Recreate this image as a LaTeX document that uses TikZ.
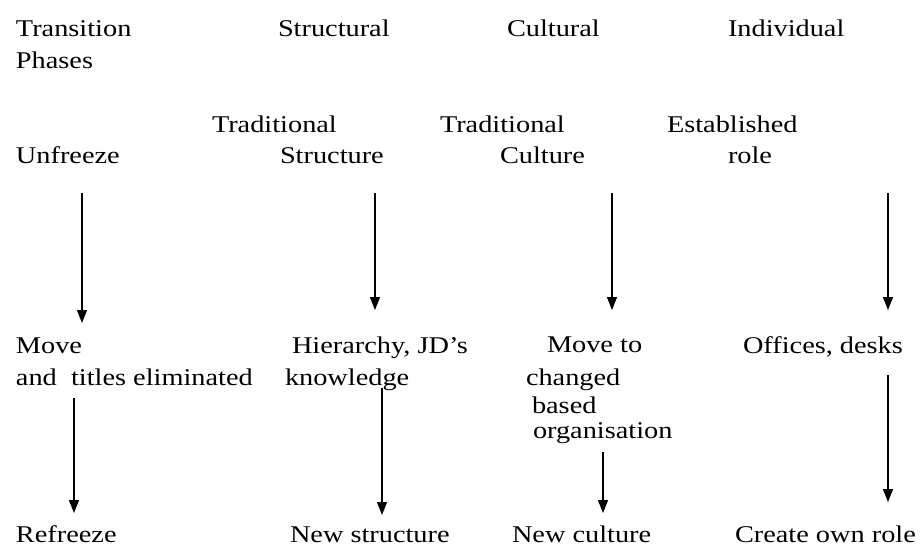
\documentclass[tikz,border=0pt]{standalone}
\usepackage{fontspec}
\setmainfont{Liberation Serif}[FakeStretch=1.18]
\usetikzlibrary{arrows.meta}
\tikzset{
  lbl/.style={anchor=base west, inner sep=0pt, outer sep=0pt, font=\fontsize{24}{30}\selectfont, text=black},
  arr/.style={line width=1.3pt, draw=black, -{Triangle[width=10pt,length=13pt]}}
}
\begin{document}
\begin{tikzpicture}[x=1pt,y=-1pt]
\useasboundingbox[fill=white] (0,0) rectangle (922,546);
% header row
\node[lbl] (trans)  at (16,36)  {Transition};
\node[lbl] (phases) at (16,68)  {Phases};
\node[lbl] (struct) at (278,36) {Structural};
\node[lbl] (cult)   at (507,36) {Cultural};
\node[lbl] (indiv)  at (728,36) {Individual};
% unfreeze row
\node[lbl] (trad1)   at (212,132) {Traditional};
\node[lbl] (tstruct) at (280,163) {Structure};
\node[lbl] (trad2)   at (440,132) {Traditional};
\node[lbl] (tcult)   at (500,163) {Culture};
\node[lbl] (estab)   at (667,132) {Established};
\node[lbl] (role)    at (728,163) {role};
\node[lbl] (unfreeze) at (16,163) {Unfreeze};
% move row
\node[lbl] (move)    at (16,353)  {Move};
\node[lbl] (titles)  at (16,385)  {and~~titles eliminated};
\node[lbl] (hier)    at (292,353) {Hierarchy, JD’s};
\node[lbl] (know)    at (285,385) {knowledge};
\node[lbl] (moveto)  at (547,352) {Move to};
\node[lbl] (changed) at (526,385) {changed};
\node[lbl] (based)   at (532,413) {based};
\node[lbl] (organ)   at (533,438) {organisation};
\node[lbl] (offices) at (743,353) {Offices, desks};
% refreeze row
\node[lbl] (refreeze)  at (16,542)  {Refreeze};
\node[lbl] (newstruct) at (290,542) {New structure};
\node[lbl] (newcult)   at (512,542) {New culture};
\node[lbl] (create)    at (735,542) {Create own role};
% arrow end points
\coordinate (a1s) at (82,193);  \coordinate (a1e) at (82,323);
\coordinate (a2s) at (375,193); \coordinate (a2e) at (375,310);
\coordinate (a3s) at (612,193); \coordinate (a3e) at (612,310);
\coordinate (a4s) at (888,193); \coordinate (a4e) at (888,310);
\coordinate (b1s) at (74,398);  \coordinate (b1e) at (74,513);
\coordinate (b2s) at (382,388); \coordinate (b2e) at (382,515);
\coordinate (b3s) at (603,452); \coordinate (b3e) at (603,513);
\coordinate (b4s) at (888,375); \coordinate (b4e) at (888,502);
\draw[arr] (a1s) -- (a1e);
\draw[arr] (a2s) -- (a2e);
\draw[arr] (a3s) -- (a3e);
\draw[arr] (a4s) -- (a4e);
\draw[arr] (b1s) -- (b1e);
\draw[arr] (b2s) -- (b2e);
\draw[arr] (b3s) -- (b3e);
\draw[arr] (b4s) -- (b4e);
\end{tikzpicture}
\end{document}
